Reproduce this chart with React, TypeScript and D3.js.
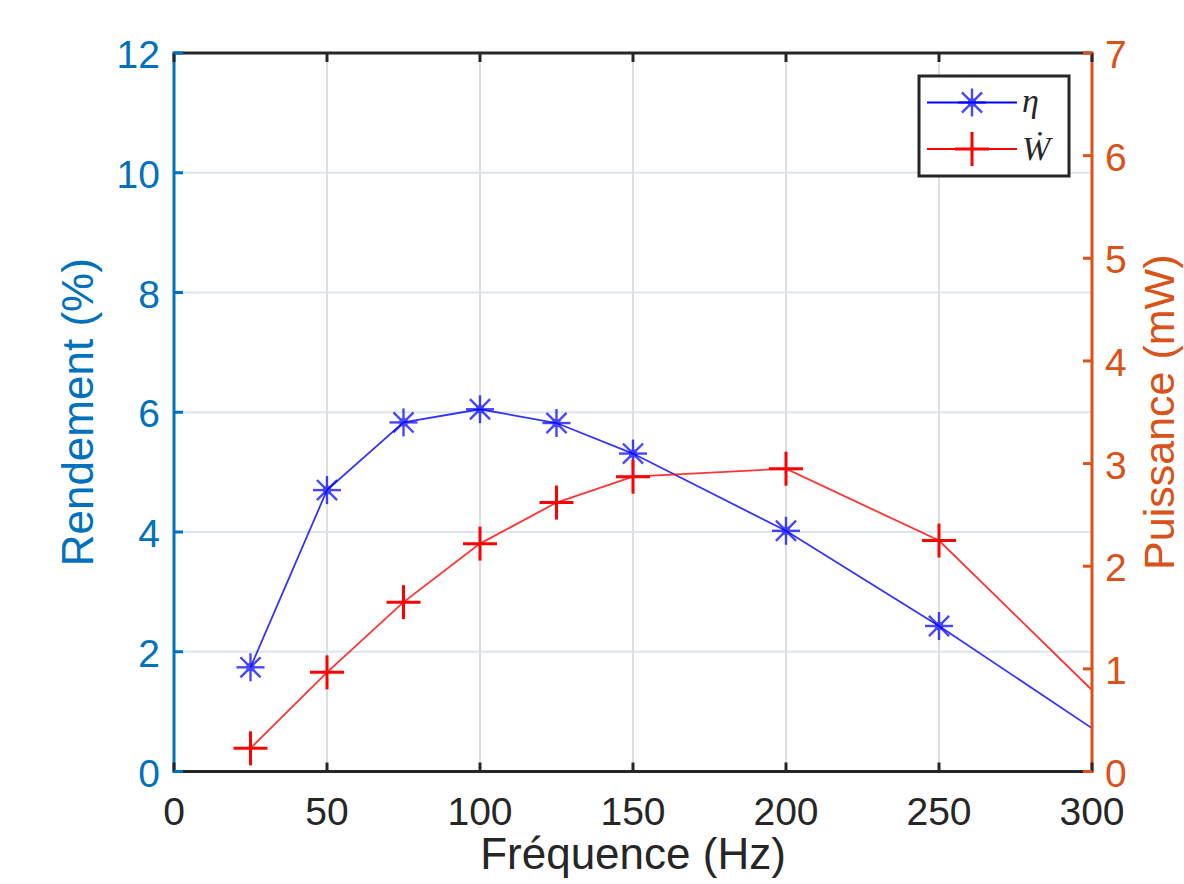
import React from "react";
import * as d3 from "d3";

const frequencies = [25, 50, 75, 100, 125, 150, 200, 250, 320];
const rendement = [1.74, 4.7, 5.83, 6.05, 5.82, 5.31, 4.02, 2.43, 0.04];
const puissance = [0.226, 0.966, 1.65, 2.22, 2.62, 2.872, 2.95, 2.25, 0.21];
const xTicks = [0, 50, 100, 150, 200, 250, 300];
const yLeftTicks = [0, 2, 4, 6, 8, 10, 12];
const yRightTicks = [0, 1, 2, 3, 4, 5, 6, 7];

const W = 1184;
const H = 884;
const L = 174;
const R = 1092;
const T = 53;
const B = 771.5;

const BLUE_AX = "#0072BD";
const ORANGE_AX = "#D95319";
const DARK = "#262626";
const FONT = "'Liberation Sans', Arial, Helvetica, sans-serif";

export default function App() {
  const x = d3.scaleLinear().domain([0, 300]).range([L, R]);
  const yL = d3.scaleLinear().domain([0, 12]).range([B, T]);
  const yR = d3.scaleLinear().domain([0, 7]).range([B, T]);

  const blueLine = d3
    .line<number>()
    .x((_, i) => x(frequencies[i]))
    .y((d) => yL(d))(rendement) as string;
  const redLine = d3
    .line<number>()
    .x((_, i) => x(frequencies[i]))
    .y((d) => yR(d))(puissance) as string;

  const inside = (f: number) => f >= 0 && f <= 300;

  const asterisk = (cx: number, cy: number, key: string) => {
    const r = 14;
    const rd = r * 0.72;
    return (
      <g key={key} stroke="#0000FF" strokeWidth={2.4} opacity={0.72}>
        <line x1={cx - r} y1={cy} x2={cx + r} y2={cy} />
        <line x1={cx} y1={cy - r} x2={cx} y2={cy + r} />
        <line x1={cx - rd} y1={cy - rd} x2={cx + rd} y2={cy + rd} />
        <line x1={cx - rd} y1={cy + rd} x2={cx + rd} y2={cy - rd} />
        <rect x={cx - 4} y={cy - 4} width={8} height={8} fill="#0000FF" stroke="none" />
      </g>
    );
  };
  const plus = (cx: number, cy: number, key: string) => {
    const r = 17;
    return (
      <g key={key} stroke="#FF0000" strokeWidth={3}>
        <line x1={cx - r} y1={cy} x2={cx + r} y2={cy} />
        <line x1={cx} y1={cy - r} x2={cx} y2={cy + r} />
      </g>
    );
  };

  const tickLen = 9;

  return (
    <svg
      width={W}
      height={H}
      style={{ position: "absolute", left: 0, top: 0, background: "#fff" }}
      fontFamily={FONT}
    >
      <defs>
        <clipPath id="plotClip">
          <rect x={L} y={T} width={R - L} height={B - T} />
        </clipPath>
      </defs>
      {/* grid */}
      {xTicks.slice(1, -1).map((t) => (
        <line key={"gx" + t} x1={x(t)} x2={x(t)} y1={T} y2={B} stroke="#dedede" strokeWidth={2} />
      ))}
      {yLeftTicks.slice(1, -1).map((t) => (
        <line key={"gy" + t} x1={L} x2={R} y1={yL(t)} y2={yL(t)} stroke="#dbe6f1" strokeWidth={2} />
      ))}

      {/* data lines */}
      <g clipPath="url(#plotClip)">
        <path d={blueLine} fill="none" stroke="#0000FF" strokeWidth={1.8} opacity={0.8} />
        <path d={redLine} fill="none" stroke="#FF0000" strokeWidth={1.8} opacity={0.8} />
      </g>
      {frequencies.map((f, i) => (inside(f) ? asterisk(x(f), yL(rendement[i]), "a" + i) : null))}
      {frequencies.map((f, i) => (inside(f) ? plus(x(f), yR(puissance[i]), "p" + i) : null))}

      {/* axes box */}
      <line x1={L} x2={R} y1={T} y2={T} stroke={DARK} strokeWidth={3} />
      <line x1={L} x2={R} y1={B} y2={B} stroke={DARK} strokeWidth={3} />
      <line x1={L} x2={L} y1={T - 1.5} y2={B + 1.5} stroke={BLUE_AX} strokeWidth={3} />
      <line x1={R} x2={R} y1={T - 1.5} y2={B + 1.5} stroke={ORANGE_AX} strokeWidth={3} />

      {/* x ticks */}
      {xTicks.map((t) => (
        <g key={"xt" + t}>
          <line x1={x(t)} x2={x(t)} y1={B} y2={B - tickLen} stroke={DARK} strokeWidth={3} />
          <line x1={x(t)} x2={x(t)} y1={T} y2={T + tickLen} stroke={DARK} strokeWidth={3} />
          <text x={x(t)} y={B + 53} textAnchor="middle" fontSize={39} fill={DARK}>
            {t}
          </text>
        </g>
      ))}
      {/* left ticks */}
      {yLeftTicks.map((t) => (
        <g key={"yl" + t}>
          <line x1={L} x2={L + tickLen} y1={yL(t)} y2={yL(t)} stroke={BLUE_AX} strokeWidth={3} />
          <text x={L - 14} y={yL(t) + 15} textAnchor="end" fontSize={39} fill={BLUE_AX}>
            {t}
          </text>
        </g>
      ))}
      {/* right ticks */}
      {yRightTicks.map((t) => (
        <g key={"yr" + t}>
          <line x1={R} x2={R - tickLen} y1={yR(t)} y2={yR(t)} stroke={ORANGE_AX} strokeWidth={3} />
          <text x={R + 13} y={yR(t) + 15} textAnchor="start" fontSize={39} fill={ORANGE_AX}>
            {t}
          </text>
        </g>
      ))}

      {/* axis labels */}
      <text x={(L + R) / 2} y={869} textAnchor="middle" fontSize={44} fill={DARK}>
        Fréquence (Hz)
      </text>
      <text
        transform={`translate(93,${(T + B) / 2}) rotate(-90)`}
        textAnchor="middle"
        fontSize={44}
        fill={BLUE_AX}
      >
        Rendement (%)
      </text>
      <text
        transform={`translate(1174,${(T + B) / 2}) rotate(-90)`}
        textAnchor="middle"
        fontSize={43}
        fill={ORANGE_AX}
      >
        Puissance (mW)
      </text>

      {/* legend */}
      <g>
        <rect x={919} y={76} width={150} height={100} fill="#fff" stroke={DARK} strokeWidth={3} />
        <line x1={927} x2={1017} y1={102.5} y2={102.5} stroke="#0000FF" strokeWidth={1.8} />
        {asterisk(972, 102.5, "legA")}
        <line x1={927} x2={1017} y1={149} y2={149} stroke="#FF0000" strokeWidth={1.8} />
        {plus(972, 149, "legP")}
        <text x={1022} y={112} fontSize={34} fontStyle="italic" fill={DARK} fontFamily="'Liberation Serif', 'DejaVu Serif', serif">
          η
        </text>
        <text x={1022} y={160} fontSize={34} fontStyle="italic" fill={DARK} fontFamily="'Liberation Serif', 'DejaVu Serif', serif">
          Ẇ
        </text>
      </g>
    </svg>
  );
}
